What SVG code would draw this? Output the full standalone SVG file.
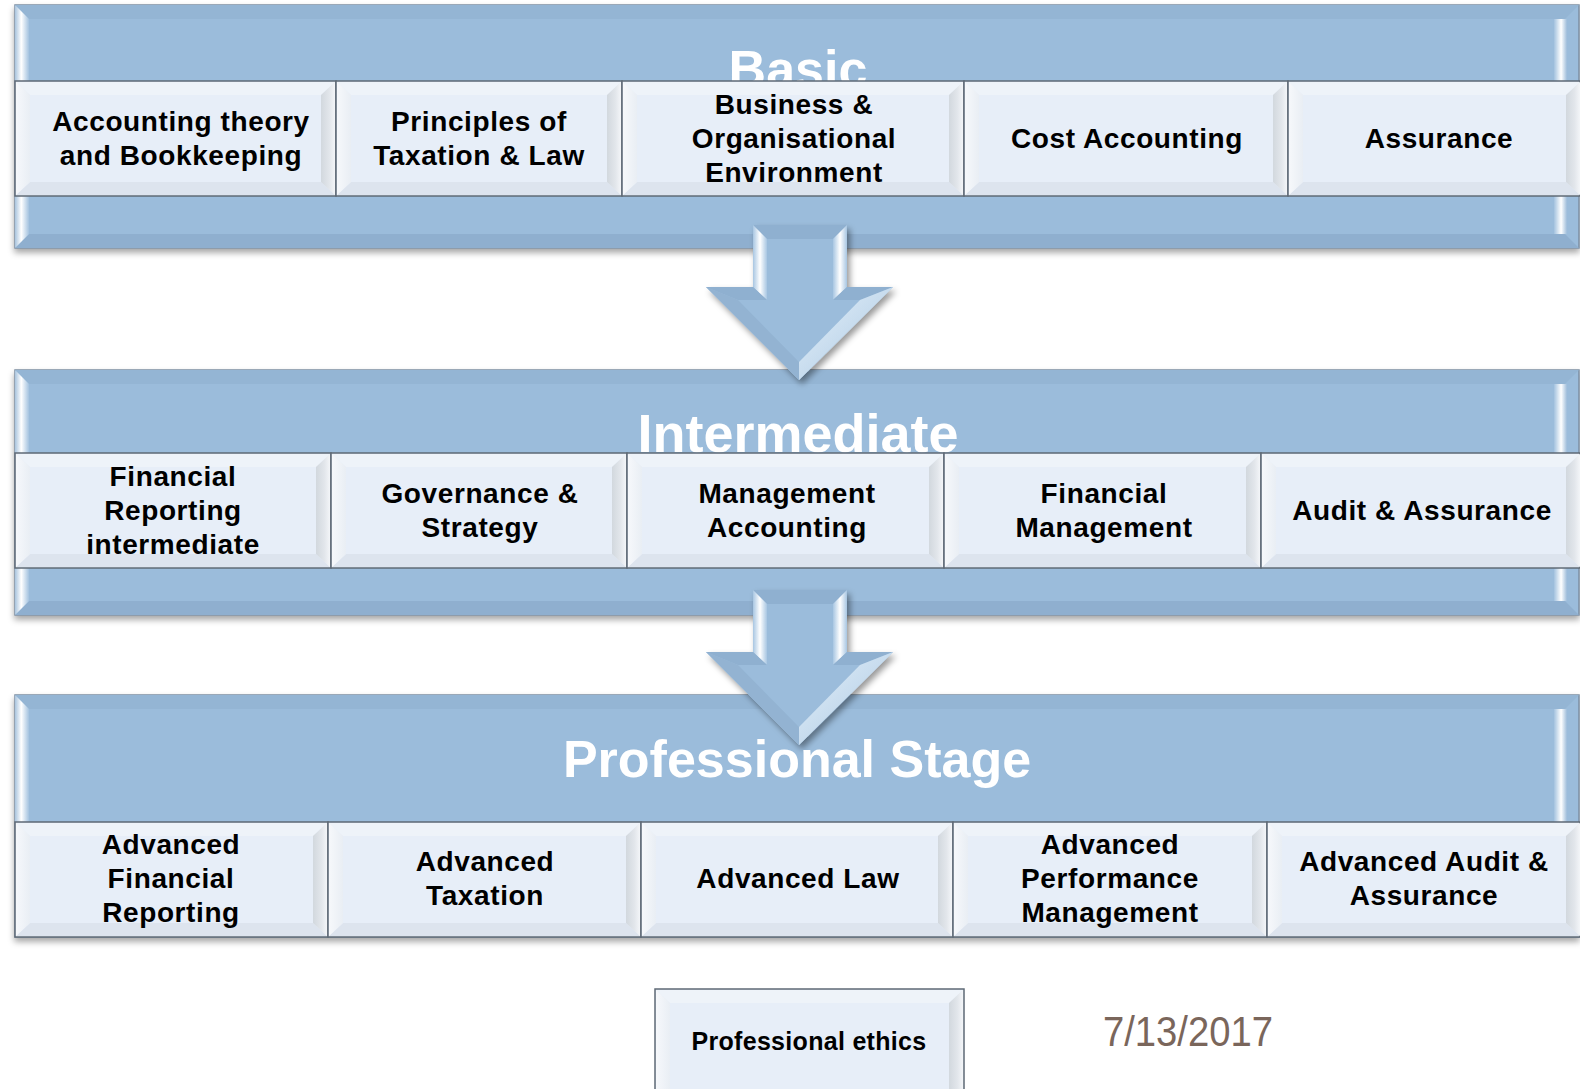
<svg xmlns="http://www.w3.org/2000/svg" width="1580" height="1089" viewBox="0 0 1580 1089">
  <defs>
    <style>
      .band { fill: #9bbcdb; stroke: #7d8fa3; stroke-width: 1.5; }
      .bandTop { fill: #94b5d4; }
      .bandBot { fill: #8fafcf; }
      .bandL { fill: url(#bandLeft); }
      .bandR { fill: url(#bandRight); }
      .title { font-family: "Liberation Sans", Arial, sans-serif; font-weight: bold; fill: #ffffff; text-anchor: middle; }
      .box { fill: #e7eef8; stroke: #5f6a75; stroke-width: 1.5; }
      .bt { fill: #eef3f9; }
      .bb { fill: #dde4ee; }
      .bl { fill: url(#boxLeft); }
      .br { fill: url(#boxRight); }
      .lbl { font-family: "Liberation Sans", Arial, sans-serif; font-weight: bold; font-size: 28px; letter-spacing: 0.6px; fill: #000000; text-anchor: middle; }
      .arrow { fill: #9bbcdb; }
      .aHi { fill: url(#shaftHi); }
      .aTop { fill: #8fb0d0; }
      .aDark { fill: #93b3d2; }
      .aLight { fill: url(#headHi); }
      .date { font-family: "Liberation Sans", Arial, sans-serif; font-size: 42px; fill: #7a665b; }
    </style>
    <linearGradient id="bandLeft" x1="0" y1="0" x2="1" y2="0">
      <stop offset="0" stop-color="#a9c4de"/>
      <stop offset="0.45" stop-color="#ffffff"/>
      <stop offset="1" stop-color="#a3c2df"/>
    </linearGradient>
    <linearGradient id="bandRight" x1="0" y1="0" x2="1" y2="0">
      <stop offset="0" stop-color="#a3c2df"/>
      <stop offset="0.55" stop-color="#ffffff"/>
      <stop offset="1" stop-color="#9dbcda"/>
    </linearGradient>
    <linearGradient id="boxLeft" x1="0" y1="0" x2="1" y2="0">
      <stop offset="0" stop-color="#f6f8fb"/>
      <stop offset="1" stop-color="#e9eef4"/>
    </linearGradient>
    <linearGradient id="boxRight" x1="0" y1="0" x2="1" y2="0">
      <stop offset="0" stop-color="#d2d8de"/>
      <stop offset="0.6" stop-color="#e2e6eb"/>
      <stop offset="1" stop-color="#f3f5f8"/>
    </linearGradient>
    <linearGradient id="shaftHi" x1="0" y1="0" x2="1" y2="0">
      <stop offset="0" stop-color="#a8c6e2"/>
      <stop offset="0.5" stop-color="#ffffff"/>
      <stop offset="1" stop-color="#a8c6e2"/>
    </linearGradient>
    <linearGradient id="headHi" x1="0" y1="0" x2="1" y2="1">
      <stop offset="0" stop-color="#e6f1fa"/>
      <stop offset="1" stop-color="#a9c7e2"/>
    </linearGradient>
    <filter id="shadow" x="-5%" y="-5%" width="110%" height="120%">
      <feDropShadow dx="0" dy="4" stdDeviation="3" flood-color="#000000" flood-opacity="0.35"/>
    </filter>
    <filter id="arrowShadow" x="-20%" y="-20%" width="140%" height="140%">
      <feDropShadow dx="3" dy="4" stdDeviation="3" flood-color="#000000" flood-opacity="0.4"/>
    </filter>
    <!-- arrow shape used by both stage connectors -->
    <g id="downArrow">
      <polygon class="arrow" points="753,225 847,225 847,287 893,287 799,380 706,287 753,287"/>
      <polygon class="aTop" points="753,225 847,225 833,239 767,239"/>
      <polygon class="aHi" points="753,225 767,239 767,300 753,287"/>
      <polygon class="aHi" points="847,225 833,239 833,300 847,287"/>
      <polygon class="aTop" points="706,287 753,287 767,300 738,300"/>
      <polygon class="aTop" points="847,287 893,287 860,300 833,300"/>
      <polygon class="aDark" points="706,287 738,300 799,362 799,380"/>
      <polygon class="aLight" points="893,287 860,300 799,362 799,380"/>
    </g>
    <!-- keeps the stage titles behind the module row -->
    <clipPath id="basicClip"><rect x="0" y="0" width="1580" height="81"/></clipPath>
  </defs>

  <rect x="0" y="0" width="1580" height="1089" fill="#ffffff"/>

  <!-- Stage 1: Basic -->
  <g id="stage-basic">
    <g filter="url(#shadow)">
      <rect class="band" x="15" y="5" width="1564" height="243"/>
    </g>
    <polygon class="bandTop" points="15,5 1579,5 1565,19 29,19"/>
    <polygon class="bandBot" points="15,248 1579,248 1565,234 29,234"/>
    <polygon class="bandL" points="15,5 29,19 29,234 15,248"/>
    <polygon class="bandR" points="1554,19 1567,19 1567,234 1554,234"/>
    <text class="title" x="798" y="87" font-size="52" clip-path="url(#basicClip)">Basic</text>
  </g>
  <g id="box-accounting-theory">
    <rect class="box" x="15" y="81" width="321" height="115"/>
    <polygon class="bt" points="16,82 335,82 321,95 30,95"/>
    <polygon class="bb" points="16,195 335,195 321,182 30,182"/>
    <polygon class="bl" points="16,82 30,95 30,182 16,195"/>
    <polygon class="br" points="335,82 321,95 321,182 335,195"/>
    <text class="lbl" x="181" y="131">Accounting theory</text>
    <text class="lbl" x="181" y="165">and Bookkeeping</text>
  </g>
  <g id="box-taxation-law">
    <rect class="box" x="336" y="81" width="286" height="115"/>
    <polygon class="bt" points="337,82 621,82 607,95 351,95"/>
    <polygon class="bb" points="337,195 621,195 607,182 351,182"/>
    <polygon class="bl" points="337,82 351,95 351,182 337,195"/>
    <polygon class="br" points="621,82 607,95 607,182 621,195"/>
    <text class="lbl" x="479" y="131">Principles of</text>
    <text class="lbl" x="479" y="165">Taxation &amp; Law</text>
  </g>
  <g id="box-business-environment">
    <rect class="box" x="622" y="81" width="342" height="115"/>
    <polygon class="bt" points="623,82 963,82 949,95 637,95"/>
    <polygon class="bb" points="623,195 963,195 949,182 637,182"/>
    <polygon class="bl" points="623,82 637,95 637,182 623,195"/>
    <polygon class="br" points="963,82 949,95 949,182 963,195"/>
    <text class="lbl" x="794" y="114">Business &amp;</text>
    <text class="lbl" x="794" y="148">Organisational</text>
    <text class="lbl" x="794" y="182">Environment</text>
  </g>
  <g id="box-cost-accounting">
    <rect class="box" x="964" y="81" width="324" height="115"/>
    <polygon class="bt" points="965,82 1287,82 1273,95 979,95"/>
    <polygon class="bb" points="965,195 1287,195 1273,182 979,182"/>
    <polygon class="bl" points="965,82 979,95 979,182 965,195"/>
    <polygon class="br" points="1287,82 1273,95 1273,182 1287,195"/>
    <text class="lbl" x="1127" y="148">Cost Accounting</text>
  </g>
  <g id="box-assurance">
    <rect class="box" x="1288" y="81" width="292" height="115"/>
    <polygon class="bt" points="1289,82 1580,82 1566,95 1303,95"/>
    <polygon class="bb" points="1289,195 1580,195 1566,182 1303,182"/>
    <polygon class="bl" points="1289,82 1303,95 1303,182 1289,195"/>
    <polygon class="br" points="1580,82 1566,95 1566,182 1580,195"/>
    <text class="lbl" x="1439" y="148">Assurance</text>
  </g>

  <!-- Stage 2: Intermediate -->
  <g id="stage-intermediate">
    <g filter="url(#shadow)">
      <rect class="band" x="15" y="370" width="1564" height="245"/>
    </g>
    <polygon class="bandTop" points="15,370 1579,370 1565,384 29,384"/>
    <polygon class="bandBot" points="15,615 1579,615 1565,601 29,601"/>
    <polygon class="bandL" points="15,370 29,384 29,601 15,615"/>
    <polygon class="bandR" points="1554,384 1567,384 1567,601 1554,601"/>
    <text class="title" x="798" y="452" font-size="54">Intermediate</text>
  </g>
  <g id="box-financial-reporting">
    <rect class="box" x="15" y="453" width="316" height="115"/>
    <polygon class="bt" points="16,454 330,454 316,467 30,467"/>
    <polygon class="bb" points="16,567 330,567 316,554 30,554"/>
    <polygon class="bl" points="16,454 30,467 30,554 16,567"/>
    <polygon class="br" points="330,454 316,467 316,554 330,567"/>
    <text class="lbl" x="173" y="486">Financial</text>
    <text class="lbl" x="173" y="520">Reporting</text>
    <text class="lbl" x="173" y="554">intermediate</text>
  </g>
  <g id="box-governance-strategy">
    <rect class="box" x="331" y="453" width="296" height="115"/>
    <polygon class="bt" points="332,454 626,454 612,467 346,467"/>
    <polygon class="bb" points="332,567 626,567 612,554 346,554"/>
    <polygon class="bl" points="332,454 346,467 346,554 332,567"/>
    <polygon class="br" points="626,454 612,467 612,554 626,567"/>
    <text class="lbl" x="480" y="503">Governance &amp;</text>
    <text class="lbl" x="480" y="537">Strategy</text>
  </g>
  <g id="box-management-accounting">
    <rect class="box" x="627" y="453" width="317" height="115"/>
    <polygon class="bt" points="628,454 943,454 929,467 642,467"/>
    <polygon class="bb" points="628,567 943,567 929,554 642,554"/>
    <polygon class="bl" points="628,454 642,467 642,554 628,567"/>
    <polygon class="br" points="943,454 929,467 929,554 943,567"/>
    <text class="lbl" x="787" y="503">Management</text>
    <text class="lbl" x="787" y="537">Accounting</text>
  </g>
  <g id="box-financial-management">
    <rect class="box" x="944" y="453" width="317" height="115"/>
    <polygon class="bt" points="945,454 1260,454 1246,467 959,467"/>
    <polygon class="bb" points="945,567 1260,567 1246,554 959,554"/>
    <polygon class="bl" points="945,454 959,467 959,554 945,567"/>
    <polygon class="br" points="1260,454 1246,467 1246,554 1260,567"/>
    <text class="lbl" x="1104" y="503">Financial</text>
    <text class="lbl" x="1104" y="537">Management</text>
  </g>
  <g id="box-audit-assurance">
    <rect class="box" x="1261" y="453" width="319" height="115"/>
    <polygon class="bt" points="1262,454 1580,454 1566,467 1276,467"/>
    <polygon class="bb" points="1262,567 1580,567 1566,554 1276,554"/>
    <polygon class="bl" points="1262,454 1276,467 1276,554 1262,567"/>
    <polygon class="br" points="1580,454 1566,467 1566,554 1580,567"/>
    <text class="lbl" x="1422" y="520">Audit &amp; Assurance</text>
  </g>

  <!-- Stage 3: Professional -->
  <g id="stage-professional">
    <g filter="url(#shadow)">
      <rect class="band" x="15" y="695" width="1564" height="242"/>
    </g>
    <polygon class="bandTop" points="15,695 1579,695 1565,709 29,709"/>
    <polygon class="bandL" points="15,695 29,709 29,822 15,822"/>
    <polygon class="bandR" points="1554,709 1567,709 1567,822 1554,822"/>
  </g>
  <g id="box-advanced-financial-reporting">
    <rect class="box" x="15" y="822" width="313" height="115"/>
    <polygon class="bt" points="16,823 327,823 313,836 30,836"/>
    <polygon class="bb" points="16,936 327,936 313,923 30,923"/>
    <polygon class="bl" points="16,823 30,836 30,923 16,936"/>
    <polygon class="br" points="327,823 313,836 313,923 327,936"/>
    <text class="lbl" x="171" y="854">Advanced</text>
    <text class="lbl" x="171" y="888">Financial</text>
    <text class="lbl" x="171" y="922">Reporting</text>
  </g>
  <g id="box-advanced-taxation">
    <rect class="box" x="328" y="822" width="313" height="115"/>
    <polygon class="bt" points="329,823 640,823 626,836 343,836"/>
    <polygon class="bb" points="329,936 640,936 626,923 343,923"/>
    <polygon class="bl" points="329,823 343,836 343,923 329,936"/>
    <polygon class="br" points="640,823 626,836 626,923 640,936"/>
    <text class="lbl" x="485" y="871">Advanced</text>
    <text class="lbl" x="485" y="905">Taxation</text>
  </g>
  <g id="box-advanced-law">
    <rect class="box" x="641" y="822" width="312" height="115"/>
    <polygon class="bt" points="642,823 952,823 938,836 656,836"/>
    <polygon class="bb" points="642,936 952,936 938,923 656,923"/>
    <polygon class="bl" points="642,823 656,836 656,923 642,936"/>
    <polygon class="br" points="952,823 938,836 938,923 952,936"/>
    <text class="lbl" x="798" y="888">Advanced Law</text>
  </g>
  <g id="box-advanced-performance-management">
    <rect class="box" x="953" y="822" width="314" height="115"/>
    <polygon class="bt" points="954,823 1266,823 1252,836 968,836"/>
    <polygon class="bb" points="954,936 1266,936 1252,923 968,923"/>
    <polygon class="bl" points="954,823 968,836 968,923 954,936"/>
    <polygon class="br" points="1266,823 1252,836 1252,923 1266,936"/>
    <text class="lbl" x="1110" y="854">Advanced</text>
    <text class="lbl" x="1110" y="888">Performance</text>
    <text class="lbl" x="1110" y="922">Management</text>
  </g>
  <g id="box-advanced-audit-assurance">
    <rect class="box" x="1267" y="822" width="313" height="115"/>
    <polygon class="bt" points="1268,823 1580,823 1566,836 1282,836"/>
    <polygon class="bb" points="1268,936 1580,936 1566,923 1282,923"/>
    <polygon class="bl" points="1268,823 1282,836 1282,923 1268,936"/>
    <polygon class="br" points="1580,823 1566,836 1566,923 1580,936"/>
    <text class="lbl" x="1424" y="871">Advanced Audit &amp;</text>
    <text class="lbl" x="1424" y="905">Assurance</text>
  </g>

  <!-- Stage connectors -->
  <g id="connectors">
    <use href="#downArrow" filter="url(#arrowShadow)"/>
    <use href="#downArrow" transform="translate(0,365)" filter="url(#arrowShadow)"/>
  </g>

  <text class="title" x="797" y="777" font-size="52">Professional Stage</text>

  <!-- Ethics module -->
  <g id="box-professional-ethics">
    <rect class="box" x="655" y="989" width="309" height="110" stroke="#8a939c"/>
    <polygon class="bt" points="656,990 963,990 949,1003 670,1003"/>
    <polygon class="bl" points="656,990 670,1003 670,1089 656,1089"/>
    <polygon class="br" points="963,990 949,1003 949,1089 963,1089"/>
    <text class="lbl" x="809" y="1050" style="font-size:25px;letter-spacing:0.3px">Professional ethics</text>
  </g>

  <text class="date" x="1103" y="1046" textLength="170" lengthAdjust="spacingAndGlyphs">7/13/2017</text>
</svg>
